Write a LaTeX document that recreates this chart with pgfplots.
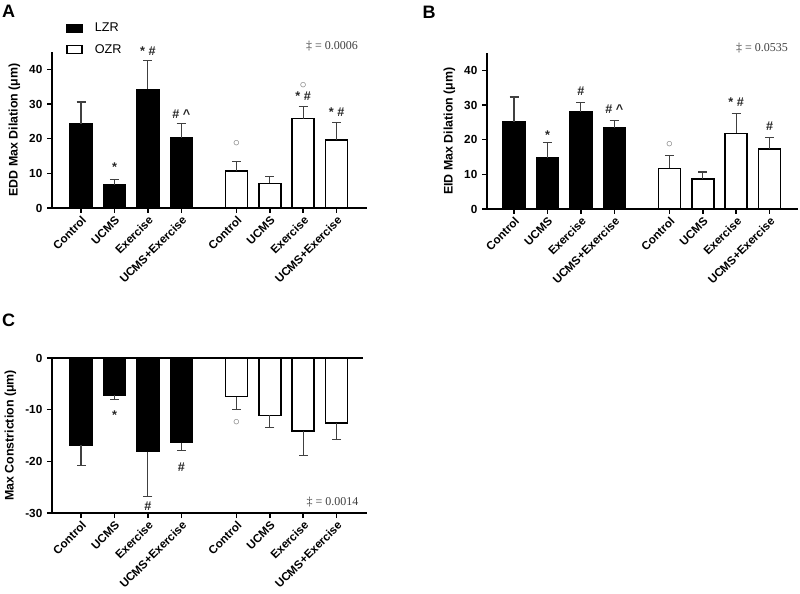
\documentclass[border=0pt]{standalone}
\usepackage{fontspec}
\setmainfont{Liberation Sans}
\newfontfamily\seriffont{Liberation Serif}
\usepackage{pgfplots}
\pgfplotsset{compat=1.18}

\pgfplotsset{
 panel/.style={
  scale only axis, width=236.25pt, height=117pt,
  anchor=south west,
  axis lines=left, axis line style={-, line width=1.1pt},
  xmin=-0.87, xmax=8.56,
  xtick={0,1,2,3,4.65,5.65,6.65,7.65},
  xticklabels={Control,UCMS,Exercise,UCMS+Exercise,Control,UCMS,Exercise,UCMS+Exercise},
  xticklabel style={rotate=45, anchor=north east, inner sep=1pt, font=\bfseries\fontsize{8.7}{10}\selectfont},
  yticklabel style={font=\bfseries\fontsize{8.8}{10}\selectfont},
  ylabel style={font=\bfseries\fontsize{9.3}{10}\selectfont},
  tick align=outside, major tick length=3.75pt, tick style={line width=1.1pt, black},
  /pgf/number format/assume math mode=true,
  clip=false,
  ybar, bar width=0.66,
  every axis plot/.append style={bar shift=0pt},
 },
 errs/.style={error bars/.cd, y dir=#1, y explicit,
   error bar style={line width=0.9pt, black!75},
   error mark options={rotate=90, mark size=3.4pt, line width=0.9pt, black!75}},
 lzr/.style={fill=black, draw=black, line width=1.1pt},
 ozr/.style={fill=white, draw=black, line width=1.1pt},
}
\tikzset{
 ann/.style={font=\bfseries\fontsize{9.5}{10}\selectfont, anchor=base, text=black!85},
 circ/.style={font=\fontsize{10}{10}\selectfont, text=black!60, anchor=center},
}

\begin{document}
\begin{tikzpicture}
\path[use as bounding box] (0,0) rectangle (600pt,444.75pt);

% ---------------- Panel A
\begin{axis}[panel, at={(39pt,288.75pt)}, ymin=0, ymax=45, ytick={0,10,20,30,40},
  ylabel={EDD Max Dilation (μm)},
  legend style={at={(axis description cs:0.045,1.205)}, anchor=north west, draw=none, fill=none,
    font=\fontsize{9.5}{10}\selectfont, row sep=4pt, column sep=7pt, inner sep=0pt},
  legend cell align=left,
  legend image code/.code={\draw[#1, line width=1pt] (0pt,-3pt) rectangle (11.25pt,3pt);},
]
\addplot[lzr, errs=plus] coordinates {(0,24.2) +- (0,6.4) (1,6.6) +- (0,1.6) (2,34.2) +- (0,8.3) (3,20.3) +- (0,4.1)};
\addlegendentry{LZR}
\addplot[ozr, errs=plus] coordinates {(4.65,10.7) +- (0,2.7) (5.65,7.1) +- (0,2.0) (6.65,25.8) +- (0,3.4) (7.65,19.6) +- (0,5.0)};
\addlegendentry{OZR}
\node[ann] at (axis cs:1,10.5) {*};
\node[ann] at (axis cs:2,44.0) {* \#};
\node[ann] at (axis cs:3,25.8) {\# \^{}};
\node[circ] at (axis cs:4.65,18.6) {$\circ$};
\node[circ] at (axis cs:6.65,35.4) {$\circ$};
\node[ann] at (axis cs:6.65,30.9) {* \#};
\node[ann] at (axis cs:7.65,26.5) {* \#};
\end{axis}

% ---------------- Panel B
\begin{axis}[panel, at={(365.25pt,288pt)}, width=233.25pt, xmin=-0.81, xmax=8.5,
  ymin=0, ymax=45, ytick={0,10,20,30,40},
  ylabel={EID Max Dilation (μm)}]
\addplot[lzr, errs=plus] coordinates {(0,25.1) +- (0,7.2) (1,14.8) +- (0,4.4) (2,28.0) +- (0,2.7) (3,23.5) +- (0,2.1)};
\addplot[ozr, errs=plus] coordinates {(4.65,11.7) +- (0,3.8) (5.65,8.6) +- (0,2.1) (6.65,21.8) +- (0,5.7) (7.65,17.3) +- (0,3.3)};
\node[ann] at (axis cs:1,20.1) {*};
\node[ann] at (axis cs:2,32.6) {\#};
\node[ann] at (axis cs:3,27.5) {\# \^{}};
\node[circ] at (axis cs:4.65,18.7) {$\circ$};
\node[ann] at (axis cs:6.65,29.6) {* \#};
\node[ann] at (axis cs:7.65,22.5) {\#};
\end{axis}

% ---------------- Panel C
\begin{axis}[panel, at={(39pt,60pt)}, height=116.25pt,
  ymin=-30, ymax=0, ytick={-30,-20,-10,0},
  ylabel={Max Constriction (μm)}]
\addplot[lzr, errs=minus] coordinates {(0,-16.8) +- (0,4.0) (1,-7.2) +- (0,0.9) (2,-18.1) +- (0,8.7) (3,-16.4) +- (0,1.5)};
\addplot[ozr, errs=minus] coordinates {(4.65,-7.5) +- (0,2.5) (5.65,-11.1) +- (0,2.3) (6.65,-14.1) +- (0,4.7) (7.65,-12.6) +- (0,3.1)};
\draw[line width=1.1pt] (axis cs:-0.87,0) -- (axis cs:8.44,0);
\node[ann] at (axis cs:1,-11.9) {*};
\node[ann] at (axis cs:2,-29.5) {\#};
\node[ann] at (axis cs:3,-21.9) {\#};
\node[circ] at (axis cs:4.65,-12.45) {$\circ$};
\end{axis}

% ---------------- panel letters and p-values
\node[font=\bfseries\fontsize{13.5}{14}\selectfont] at (6.4pt,436.1pt) {A};
\node[font=\bfseries\fontsize{13.5}{14}\selectfont] at (321.75pt,435.4pt) {B};
\node[font=\bfseries\fontsize{13.5}{14}\selectfont] at (6.4pt,204.75pt) {C};
\node[font=\seriffont\fontsize{9}{10}\selectfont, text=black!75] at (249pt,410.25pt) {‡ = 0.0006};
\node[font=\seriffont\fontsize{9}{10}\selectfont, text=black!75] at (571.5pt,408.75pt) {‡ = 0.0535};
\node[font=\seriffont\fontsize{9}{10}\selectfont, text=black!75, anchor=east] at (272.25pt,68.25pt) {‡ = 0.0014};
\end{tikzpicture}
\end{document}
